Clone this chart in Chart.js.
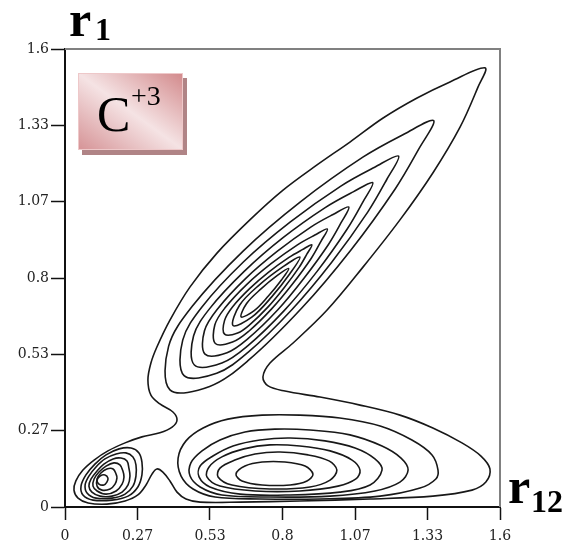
<!DOCTYPE html>
<html>
<head>
<meta charset="utf-8">
<script src="https://cdn.jsdelivr.net/npm/chart.js@4.4.0/dist/chart.umd.min.js"></script>
<style>
  html, body { margin: 0; padding: 0; background: #fff; }
  #wrap { position: relative; width: 567px; height: 549px; overflow: hidden; }
  #chart { position: absolute; left: 0; top: 0; }
  .lbl { position: absolute; line-height: 1; white-space: nowrap; font-family: "Liberation Serif", "Times New Roman", serif; color: #000; }
  .big { font-weight: bold; font-size: 50px; }
  .sub { font-weight: bold; font-size: 32px; }
  #tag {
    position: absolute; left: 78px; top: 73px; width: 105px; height: 77px; box-sizing: border-box;
    border: 1px solid #eec8c9;
    background: linear-gradient(to bottom left, #d38b8d 0%, #f5e3e4 50%, #d69497 100%);
    box-shadow: 4px 5px 0 #b08486;
  }
</style>
</head>
<body>
<div id="wrap">
  <canvas id="chart" width="567" height="549"></canvas>
  <div id="tag"></div>
  <span class="lbl" style="left:97px; top:89px; font-size:50px;">C</span>
  <span class="lbl" style="left:131px; top:82px; font-size:28px;">+3</span>
  <span class="lbl big" style="left:69px; top:-6px;">r</span>
  <span class="lbl sub" style="left:95px; top:13px;">1</span>
  <span class="lbl big" style="left:508px; top:461px;">r</span>
  <span class="lbl sub" style="left:531px; top:485px;">12</span>
</div>
<script>
// contour plot of the C+3 distribution, r12 (x) vs r1 (y)
const AXIS_TICKS = [0, 0.2667, 0.5333, 0.8, 1.0667, 1.3333, 1.6]
const TICK_LABELS = ["0", "0.27", "0.53", "0.8", "1.07", "1.33", "1.6"]

const LINE_COLOR = "#181818"

// outermost level, wraps all three peaks
const OUTER = [
  [1.545, 1.534], [1.519, 1.467], [1.453, 1.327], [1.353, 1.167], [1.232, 1.003], [1.096, 0.838],
  [0.964, 0.688], [0.839, 0.573], [0.754, 0.503], [0.728, 0.454], [0.747, 0.423], [0.809, 0.405],
  [0.938, 0.384], [1.085, 0.356], [1.232, 0.321], [1.353, 0.276], [1.46, 0.224], [1.53, 0.178],
  [1.563, 0.133], [1.548, 0.087], [1.497, 0.059], [1.353, 0.038], [1.122, 0.028], [0.864, 0.021],
  [0.644, 0.017], [0.497, 0.017], [0.445, 0.028], [0.412, 0.052], [0.386, 0.091], [0.36, 0.122],
  [0.338, 0.133], [0.32, 0.115], [0.298, 0.077], [0.268, 0.042], [0.221, 0.021], [0.154, 0.01],
  [0.085, 0.014], [0.048, 0.031], [0.033, 0.059], [0.04, 0.091], [0.066, 0.129], [0.107, 0.164],
  [0.158, 0.196], [0.221, 0.224], [0.283, 0.245], [0.349, 0.259], [0.394, 0.279], [0.412, 0.304],
  [0.397, 0.332], [0.349, 0.36], [0.316, 0.391], [0.305, 0.444], [0.316, 0.503], [0.338, 0.559],
  [0.386, 0.653], [0.46, 0.769], [0.559, 0.887], [0.68, 1.003], [0.802, 1.107], [0.927, 1.195],
  [1.048, 1.275], [1.17, 1.359], [1.295, 1.429], [1.416, 1.485],
]

// diagonal peak, outer to inner (each starts at its upper-right tip)
const DIAG_1 = [
  [1.356, 1.35], [1.248, 1.303], [1.097, 1.223], [0.867, 1.067], [0.656, 0.895], [0.468, 0.701],
  [0.381, 0.561], [0.386, 0.409], [0.532, 0.421], [0.673, 0.511], [0.871, 0.695], [1.051, 0.897],
  [1.215, 1.112], [1.302, 1.252],
]
const DIAG_2 = [
  [1.227, 1.226], [1.139, 1.187], [1.016, 1.122], [0.829, 0.996], [0.656, 0.856], [0.503, 0.698],
  [0.433, 0.583], [0.438, 0.459], [0.558, 0.467], [0.673, 0.54], [0.835, 0.69], [0.981, 0.855],
  [1.114, 1.031], [1.184, 1.145],
]
const DIAG_3 = [
  [1.132, 1.133], [1.06, 1.101], [0.957, 1.046], [0.802, 0.941], [0.66, 0.824], [0.532, 0.693],
  [0.473, 0.598], [0.476, 0.496], [0.577, 0.503], [0.672, 0.563], [0.807, 0.687], [0.928, 0.824],
  [1.038, 0.971], [1.096, 1.066],
]
const DIAG_4 = [
  [1.044, 1.048], [0.986, 1.022], [0.904, 0.978], [0.779, 0.892], [0.664, 0.798], [0.561, 0.692],
  [0.513, 0.616], [0.515, 0.534], [0.596, 0.539], [0.673, 0.588], [0.782, 0.688], [0.879, 0.799],
  [0.969, 0.917], [1.016, 0.994],
]
const DIAG_5 = [
  [0.965, 0.971], [0.919, 0.95], [0.855, 0.916], [0.758, 0.85], [0.668, 0.777], [0.588, 0.695],
  [0.551, 0.636], [0.553, 0.571], [0.616, 0.576], [0.676, 0.614], [0.76, 0.692], [0.836, 0.778],
  [0.906, 0.869], [0.942, 0.929],
]
const DIAG_6 = [
  [0.908, 0.916], [0.873, 0.899], [0.824, 0.872], [0.748, 0.82], [0.679, 0.763], [0.616, 0.699],
  [0.587, 0.652], [0.587, 0.604], [0.635, 0.608], [0.681, 0.638], [0.747, 0.699], [0.806, 0.766],
  [0.861, 0.837], [0.89, 0.884],
]
const DIAG_7 = [
  [0.864, 0.873], [0.801, 0.839], [0.716, 0.777], [0.642, 0.705], [0.618, 0.634], [0.687, 0.663],
  [0.761, 0.735], [0.827, 0.815],
]
const DIAG_8 = [
  [0.823, 0.833], [0.78, 0.808], [0.721, 0.762], [0.668, 0.711], [0.648, 0.664], [0.696, 0.686],
  [0.748, 0.737], [0.796, 0.793],
]

// bottom peak, outer to inner
const BOTTOM_1 = [
  [1.372, 0.129], [1.35, 0.182], [1.276, 0.234], [1.159, 0.283], [1.011, 0.311], [0.864, 0.321],
  [0.725, 0.321], [0.599, 0.307], [0.508, 0.276], [0.445, 0.231], [0.416, 0.171], [0.427, 0.108],
  [0.471, 0.063], [0.552, 0.035], [0.717, 0.028], [0.938, 0.028], [1.159, 0.038], [1.306, 0.066],
  [1.364, 0.098],
]
const BOTTOM_2 = [
  [1.262, 0.129], [1.236, 0.171], [1.166, 0.213], [1.048, 0.252], [0.901, 0.269], [0.772, 0.272],
  [0.662, 0.262], [0.57, 0.234], [0.504, 0.196], [0.463, 0.154], [0.46, 0.108], [0.497, 0.07],
  [0.577, 0.042], [0.754, 0.035], [0.975, 0.038], [1.14, 0.056], [1.232, 0.087],
]
const BOTTOM_3 = [
  [1.166, 0.129], [1.14, 0.168], [1.067, 0.206], [0.956, 0.231], [0.828, 0.241], [0.717, 0.234],
  [0.618, 0.213], [0.544, 0.178], [0.497, 0.143], [0.493, 0.105], [0.533, 0.07], [0.644, 0.045],
  [0.828, 0.042], [1.011, 0.052], [1.122, 0.077],
]
const BOTTOM_4 = [
  [1.085, 0.129], [1.056, 0.164], [0.975, 0.196], [0.864, 0.213], [0.754, 0.217], [0.658, 0.203],
  [0.577, 0.175], [0.53, 0.14], [0.522, 0.105], [0.57, 0.073], [0.699, 0.056], [0.864, 0.056],
  [1.004, 0.073], [1.07, 0.098],
]
const BOTTOM_5 = [
  [1.0, 0.129], [0.971, 0.161], [0.894, 0.182], [0.791, 0.192], [0.699, 0.185], [0.625, 0.164],
  [0.57, 0.136], [0.563, 0.105], [0.614, 0.077], [0.754, 0.063], [0.901, 0.07], [0.975, 0.094],
]
const BOTTOM_6 = [
  [0.912, 0.115], [0.883, 0.143], [0.809, 0.157], [0.725, 0.157], [0.662, 0.143], [0.629, 0.115],
  [0.651, 0.091], [0.725, 0.077], [0.828, 0.077], [0.89, 0.091],
]

// small peak near the origin, outer to inner
const LEFT_1 = [
  [0.283, 0.157], [0.272, 0.189], [0.243, 0.206], [0.199, 0.203], [0.151, 0.182], [0.11, 0.15],
  [0.077, 0.112], [0.059, 0.073], [0.066, 0.042], [0.103, 0.024], [0.173, 0.024], [0.232, 0.038],
  [0.268, 0.07], [0.283, 0.112],
]
const LEFT_2 = [
  [0.261, 0.147], [0.25, 0.175], [0.224, 0.189], [0.188, 0.185], [0.147, 0.168], [0.114, 0.14],
  [0.088, 0.108], [0.074, 0.077], [0.081, 0.049], [0.114, 0.031], [0.173, 0.031], [0.221, 0.045],
  [0.25, 0.073], [0.261, 0.108],
]
const LEFT_3 = [
  [0.235, 0.136], [0.228, 0.161], [0.206, 0.171], [0.177, 0.168], [0.143, 0.15], [0.118, 0.126],
  [0.096, 0.098], [0.088, 0.073], [0.099, 0.052], [0.129, 0.038], [0.173, 0.038], [0.21, 0.052],
  [0.232, 0.077], [0.239, 0.108],
]
const LEFT_4 = [
  [0.213, 0.126], [0.202, 0.147], [0.18, 0.154], [0.151, 0.143], [0.125, 0.122], [0.107, 0.098],
  [0.103, 0.073], [0.118, 0.056], [0.151, 0.045], [0.188, 0.056], [0.21, 0.08], [0.217, 0.105],
]
const LEFT_5 = [
  [0.188, 0.115], [0.177, 0.133], [0.154, 0.133], [0.132, 0.119], [0.118, 0.098], [0.118, 0.073],
  [0.136, 0.059], [0.166, 0.063], [0.184, 0.08], [0.191, 0.101],
]
const LEFT_6 = [
  [0.158, 0.101], [0.147, 0.112], [0.129, 0.108], [0.118, 0.094], [0.125, 0.08], [0.143, 0.077],
  [0.154, 0.087],
]

const CONTOURS = [
  OUTER,
  DIAG_1, DIAG_2, DIAG_3, DIAG_4, DIAG_5, DIAG_6, DIAG_7, DIAG_8,
  BOTTOM_1, BOTTOM_2, BOTTOM_3, BOTTOM_4, BOTTOM_5, BOTTOM_6,
  LEFT_1, LEFT_2, LEFT_3, LEFT_4, LEFT_5, LEFT_6,
]

// every contour is a closed level line: let the line element wrap around
const closeLoops = {
  id: "closeLoops",
  afterDatasetUpdate(chart, args) {
    const line = args.meta.dataset
    if (line) {
      line._loop = true
      line._fullLoop = true
    }
  },
}

// thin grey frame on the top and right sides
const frame = {
  id: "frame",
  beforeDatasetsDraw(chart) {
    const { ctx, chartArea: a } = chart
    ctx.save()
    ctx.strokeStyle = "#808080"
    ctx.lineWidth = 2
    ctx.beginPath()
    ctx.moveTo(a.left, a.top)
    ctx.lineTo(a.right, a.top)
    ctx.lineTo(a.right, a.bottom)
    ctx.stroke()
    ctx.restore()
  },
}

function axis(tickLength, padding, fit) {
  return {
    type: "linear",
    min: 0,
    max: 1.6,
    afterBuildTicks: (scale) => {
      scale.ticks = AXIS_TICKS.map((value) => ({ value }))
    },
    afterFit: fit,
    grid: {
      drawOnChartArea: false,
      drawTicks: true,
      tickLength,
      tickColor: "#111",
      tickWidth: 1.5,
    },
    border: { display: true, color: "#111", width: 2 },
    ticks: {
      autoSkip: false,
      maxRotation: 0,
      padding,
      color: "#222",
      font: { family: "'DejaVu Serif', serif", size: 14 },
      callback: (value, i) => TICK_LABELS[i],
    },
  }
}

new Chart(document.getElementById("chart").getContext("2d"), {
  type: "line",
  data: {
    datasets: CONTOURS.map((pts) => ({
      data: pts.map(([x, y]) => ({ x, y })),
      borderColor: LINE_COLOR,
      borderWidth: 1.6,
      pointRadius: 0,
      tension: 0.35,
      fill: false,
    })),
  },
  options: {
    responsive: false,
    animation: false,
    events: [],
    layout: { padding: { top: 49, right: 67, left: 0, bottom: 0 } },
    plugins: { legend: { display: false }, tooltip: { enabled: false } },
    scales: {
      x: axis(13, 8, (s) => { s.height = 42 }),
      y: axis(14, 2, (s) => { s.width = 65 }),
    },
  },
  plugins: [closeLoops, frame],
})
</script>
</body>
</html>
